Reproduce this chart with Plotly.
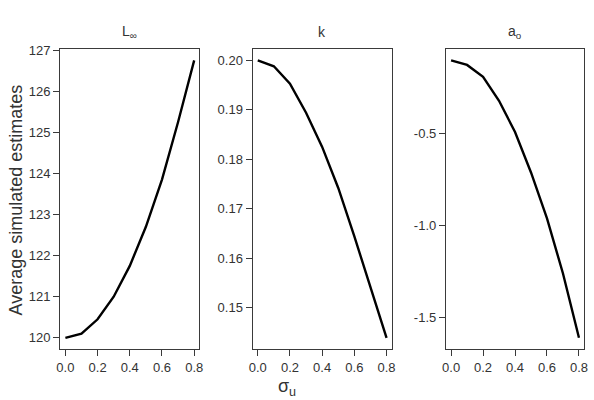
import plotly.graph_objects as go

sigma_u = [0.0, 0.1, 0.2, 0.3, 0.4, 0.5, 0.6, 0.7, 0.8]
L_inf = [120.0, 120.1, 120.45, 121.0, 121.75, 122.7, 123.85, 125.25, 126.75]
k_vals = [0.2, 0.1988, 0.1953, 0.1894, 0.1825, 0.1742, 0.1644, 0.1541, 0.1439]
a0_vals = [-0.10, -0.125, -0.19, -0.32, -0.49, -0.71, -0.96, -1.26, -1.61]

panel_titles = ["L<sub>∞</sub>", "k", "a<sub>o</sub>"]
x_ticks = [0.0, 0.2, 0.4, 0.6, 0.8]
x_ticktext = ["0.0", "0.2", "0.4", "0.6", "0.8"]
L_ticks = [120, 121, 122, 123, 124, 125, 126, 127]
L_ticktext = ["120", "121", "122", "123", "124", "125", "126", "127"]
k_ticks = [0.15, 0.16, 0.17, 0.18, 0.19, 0.20]
k_ticktext = ["0.15", "0.16", "0.17", "0.18", "0.19", "0.20"]
a_ticks = [-1.5, -1.0, -0.5]
a_ticktext = ["-1.5", "-1.0", "-0.5"]
y_label = "Average simulated estimates"
x_label = "σ<sub>u</sub>"

series = [L_inf, k_vals, a0_vals]
yticks = [(L_ticks, L_ticktext), (k_ticks, k_ticktext), (a_ticks, a_ticktext)]

x_domains = [[57/594, 198/594], [252/594, 393/594], [448/594, 588/594]]
y_domain = [1 - 348/400, 1 - 43/400]

font_family = "Liberation Sans, Arial, sans-serif"
axis_col = "#3a3a3a"

def pad_range(v):
    lo, hi = min(v), max(v)
    d = (hi - lo) * 0.04
    return [lo - d, hi + d]

fig = go.Figure()
layout = dict(
    width=594, height=400,
    margin=dict(l=0, r=0, t=0, b=0),
    paper_bgcolor="white", plot_bgcolor="white",
    showlegend=False,
    font=dict(family=font_family, color="#333333", size=13),
)
annotations = []
for i, (vals, (tv, tt)) in enumerate(zip(series, yticks)):
    n = "" if i == 0 else str(i + 1)
    fig.add_trace(go.Scatter(x=sigma_u, y=vals, mode="lines",
                             line=dict(color="black", width=2.4),
                             xaxis="x" + n, yaxis="y" + n, hoverinfo="skip"))
    common = dict(showline=True, linecolor=axis_col, linewidth=1.2, mirror=True,
                  ticks="outside", ticklen=6, tickcolor=axis_col, tickwidth=1.2,
                  showgrid=False, zeroline=False,
                  tickfont=dict(size=13, color="#333333", family=font_family))
    layout["xaxis" + n] = dict(domain=x_domains[i], anchor="y" + n,
                               range=pad_range(sigma_u), tickvals=x_ticks,
                               ticktext=x_ticktext, **common)
    layout["yaxis" + n] = dict(domain=y_domain, anchor="x" + n,
                               range=pad_range(vals), tickvals=tv,
                               ticktext=tt, **common)
    annotations.append(dict(text=panel_titles[i], xref="paper", yref="paper",
                            x=sum(x_domains[i]) / 2, y=1 - 25/400,
                            showarrow=False, xanchor="center", yanchor="middle",
                            font=dict(size=14, color="#333333", family=font_family)))

annotations.append(dict(text=y_label, xref="paper", yref="paper",
                        x=12/594, y=1 - 196/400, textangle=-90, showarrow=False,
                        xanchor="center", yanchor="middle",
                        font=dict(size=18, color="#333333", family=font_family)))
annotations.append(dict(text=x_label, xref="paper", yref="paper",
                        x=287/594, y=1 - 387/400, showarrow=False,
                        xanchor="center", yanchor="middle",
                        font=dict(size=18, color="#333333", family=font_family)))
layout["annotations"] = annotations
fig.update_layout(**layout)
fig.write_html("out.html")
